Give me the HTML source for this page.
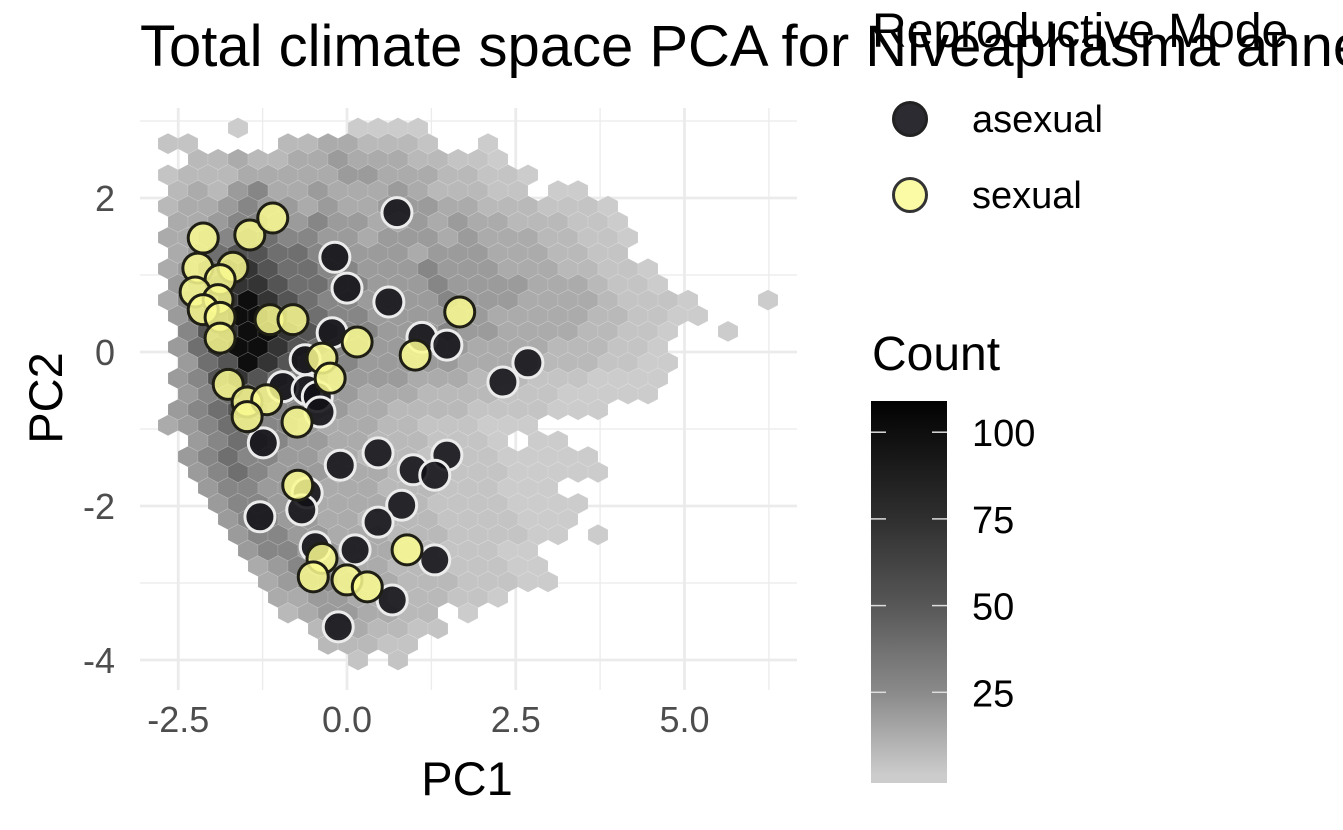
<!DOCTYPE html>
<html><head><meta charset="utf-8">
<style>
html,body{margin:0;padding:0;background:#fff;overflow:hidden;width:1343px;height:830px}
svg{display:block;font-family:"Liberation Sans",Arial,sans-serif}
</style></head>
<body>
<svg id="chart" width="1343" height="830" viewBox="0 0 1343 830" xmlns="http://www.w3.org/2000/svg">
  <g id="grid"></g>
  <g id="hexes"></g>
  <g id="pointsA"></g>
  <g id="pointsS"></g>
  <g id="axes"></g>
  <text x="140" y="66" font-size="58" fill="#000">Total climate space PCA for Niveaphasma annectens</text>
  <text x="467" y="795" font-size="47" text-anchor="middle" fill="#000">PC1</text>
  <text transform="translate(62,398) rotate(-90)" font-size="47" text-anchor="middle" fill="#000">PC2</text>
  <g>
    <text x="872" y="47" font-size="48" fill="#000">Reproductive Mode</text>
    <circle cx="910" cy="119" r="16.5" fill="#2b2b31" stroke="#222" stroke-width="3"/>
    <text x="972" y="132" font-size="38" fill="#000">asexual</text>
    <circle cx="910" cy="195" r="16.5" fill="#fbfba6" stroke="#333" stroke-width="3"/>
    <text x="972" y="208" font-size="38" fill="#000">sexual</text>
  </g>
  <g id="cbar">
    <text x="872" y="370" font-size="48" fill="#000">Count</text>
  </g>
</svg>
<script>
// ---- data ----
const xTicks = [-2.5, 0.0, 2.5, 5.0];
const xTickLabels = ["-2.5", "0.0", "2.5", "5.0"];
const xMinor = [-1.25, 1.25, 3.75, 6.25];
const yTicks = [2, 0, -2, -4];
const yTickLabels = ["2", "0", "-2", "-4"];
const yMinor = [3, 1, -1, -3];
const countTicks = [25, 50, 75, 100];
const countTickLabels = ["25", "50", "75", "100"];
const hexX0 = -2.8, hexDx = 0.2963, hexY0 = 2.909, hexDy = 0.2032;
const levelCounts = [1, 4, 8, 13, 19, 27, 38, 52, 72, 100];
const hexRows = [
"....0.....0000",
"11....22332221..0",
"..2232233433322110",
"1222333334433322110",
".232453343334322211.00",
"23345443433444332221110",
".33455445443343433222110",
"334566554434443433322110",
".34677665544434443332211",
"3468876655444544433322110",
".4578876655444544443332110",
"356898765544445444333321110...0",
".468998765544444433333221100",
".5789987655444544333322110..0",
".4689987655444443333222110",
".4679876554444433332221100",
".4578765544443332221110000",
".456765544333222211100000",
".4567655443322221111000",
"3456655433322111000",
"..4566544332221110.00",
".456554433222111100000",
"..456544433322111100000",
"..455443333222111000",
"...4554433332211110000",
"...455443322221111000",
"....45544333222111100.0",
"....455443332211100",
".....345443322211100",
".....345543322211100",
"......334433222110",
"......23443322.0",
"........2332211",
"........22211",
"..........1.1"
];
const asexX = [0.74,-0.18,0.00,0.62,-0.22,1.11,1.48,2.68,2.31,-0.62,-0.95,-0.59,-0.44,-0.40,-1.24,-0.10,0.46,1.48,0.98,1.30,-0.59,-0.67,-1.29,0.81,0.46,-0.47,0.12,1.30,0.67,-0.13];
const asexY = [1.81,1.23,0.83,0.65,0.25,0.19,0.09,-0.14,-0.39,-0.10,-0.45,-0.49,-0.58,-0.78,-1.18,-1.47,-1.31,-1.34,-1.53,-1.60,-1.83,-2.05,-2.14,-1.99,-2.21,-2.53,-2.57,-2.70,-3.22,-3.57];
const sexX = [-2.13,-1.44,-1.10,-2.21,-1.69,-1.88,-2.25,-1.91,-2.13,-1.88,-1.14,-0.80,-1.88,1.67,0.15,1.01,-0.37,-0.25,-1.76,-1.48,-1.19,-1.48,-0.74,-0.73,-0.37,-0.50,0.00,0.30,0.89];
const sexY = [1.48,1.52,1.74,1.09,1.10,0.94,0.78,0.68,0.55,0.45,0.42,0.42,0.18,0.52,0.13,-0.04,-0.08,-0.34,-0.42,-0.65,-0.62,-0.84,-0.91,-1.73,-2.68,-2.92,-2.96,-3.05,-2.57];

// ---- scales ----
const X = v => 347 + v * 67.5;
const Y = v => 352 - v * 77;
const CB = c => 779 - c * 3.468;
const P = {l:140, r:797, t:108, b:690};
const gStops = [[1,204],[25,138],[50,87],[75,47],[100,14],[110,0]];
function gray(c){
  for (let i=1;i<gStops.length;i++){
    if (c<=gStops[i][0]){
      const a=gStops[i-1], b=gStops[i];
      const g=Math.round(a[1]+(b[1]-a[1])*(c-a[0])/(b[0]-a[0]));
      return `rgb(${g},${g},${g})`;
    }
  }
  return "rgb(0,0,0)";
}
const NS = "http://www.w3.org/2000/svg";
function mk(tag, attrs, parent){
  const e=document.createElementNS(NS,tag);
  for (const k in attrs) e.setAttribute(k, attrs[k]);
  parent.appendChild(e); return e;
}

// grid
const grid=document.getElementById('grid');
xMinor.forEach(v=>{const l=mk('line',{x1:X(v),x2:X(v),y1:P.t,y2:P.b,stroke:'#ebebeb','stroke-width':1.3},grid);

});
yMinor.forEach(v=>{const l=mk('line',{x1:P.l,x2:P.r,y1:Y(v),y2:Y(v),stroke:'#ebebeb','stroke-width':1.3},grid);

});
xTicks.forEach(v=>{const l=mk('line',{x1:X(v),x2:X(v),y1:P.t,y2:P.b,stroke:'#ebebeb','stroke-width':2.8},grid);

});
yTicks.forEach(v=>{const l=mk('line',{x1:P.l,x2:P.r,y1:Y(v),y2:Y(v),stroke:'#ebebeb','stroke-width':2.8},grid);

});

// hexes
const hexG=document.getElementById('hexes');
const hw=X(hexDx)-X(0), hh=(Y(0)-Y(hexDy))/0.75;
const hx=hw/2, hy=hh/2;
hexRows.forEach((row,r)=>{
  for (let c=0;c<row.length;c++){
    const ch=row[c]; if (ch==='.') continue;
    const cnt=levelCounts[+ch];
    const cx=X(hexX0 + c*hexDx + (r%2 ? hexDx/2 : 0));
    const cy=Y(hexY0 - r*hexDy);
    const pts=[[0,-hy],[hx,-hy/2],[hx,hy/2],[0,hy],[-hx,hy/2],[-hx,-hy/2]].map(p=>(cx+p[0]).toFixed(1)+','+(cy+p[1]).toFixed(1)).join(' ');
    const h=mk('polygon',{points:pts,fill:gray(cnt),stroke:'rgba(255,255,255,0.18)','stroke-width':0.6},hexG);
    
    
  }
});

// points
const gA=document.getElementById('pointsA');
asexX.forEach((v,i)=>{const c=mk('circle',{cx:X(v),cy:Y(asexY[i]),r:15,fill:'rgba(16,16,22,0.88)',stroke:'#ececec','stroke-width':3},gA);

});
const gS=document.getElementById('pointsS');
sexX.forEach((v,i)=>{const c=mk('circle',{cx:X(v),cy:Y(sexY[i]),r:15,fill:'rgba(250,250,145,0.85)',stroke:'#1e1e14','stroke-width':3},gS);

});

// axes labels
const ax=document.getElementById('axes');
xTicks.forEach((v,i)=>{const t=mk('text',{x:X(v),y:732,'font-size':36,'text-anchor':'middle',fill:'#4d4d4d'},ax);
t.textContent=xTickLabels[i];

});
yTicks.forEach((v,i)=>{const t=mk('text',{x:115,y:Y(v)+13,'font-size':36,'text-anchor':'end',fill:'#4d4d4d'},ax);
t.textContent=yTickLabels[i];

});

// colorbar
const cb=document.getElementById('cbar');
const defs=mk('defs',{},cb);
const lg=mk('linearGradient',{id:'cg',x1:0,y1:1,x2:0,y2:0},defs);
const cbTop=CB(109), cbBot=783;
for (let c=1;c<=109;c+=4){
  mk('stop',{offset:((CB(c)-cbBot)/(cbTop-cbBot)).toFixed(3),'stop-color':gray(c)},lg);
}
const rect=mk('rect',{x:871,y:cbTop,width:76,height:cbBot-cbTop,fill:'url(#cg)'},cb);


countTicks.forEach((v,i)=>{
  const y=CB(v);
  const t1=mk('line',{x1:871,x2:886,y1:y,y2:y,stroke:'#ddd','stroke-width':1.5},cb);
  
  
  const t2=mk('line',{x1:932,x2:947,y1:y,y2:y,stroke:'#ddd','stroke-width':1.5},cb);
  
  
  const t=mk('text',{x:972,y:y+14,'font-size':38,fill:'#000'},cb);
  t.textContent=countTickLabels[i];
  
  
});
</script>
</body></html>
